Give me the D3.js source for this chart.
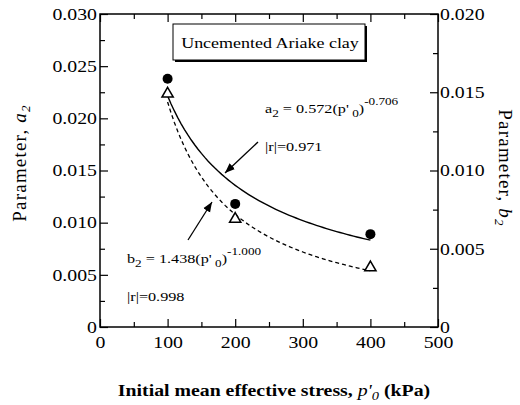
<!DOCTYPE html>
<html>
<head>
<meta charset="utf-8">
<script src="https://cdn.jsdelivr.net/npm/d3@7"></script>
<style>
  body { margin: 0; background: #fff; }
</style>
</head>
<body>
<script>
// data
const pressure = [100, 200, 400];
const a2Values = [0.0238, 0.0118, 0.0089];
const b2Values = [0.0149, 0.0069, 0.0038];

// power-law fits printed on the chart
const a2Fit = { coef: 0.572, exp: -0.706, r: 0.971 };
const b2Fit = { coef: 1.438, exp: -1.000, r: 0.998 };
const fitRange = [100, 400];

const xTicks = [0, 100, 200, 300, 400, 500];
const yLeftTicks = [0, 0.005, 0.010, 0.015, 0.020, 0.025, 0.030];
const yRightTicks = [0, 0.005, 0.010, 0.015, 0.020];

const width = 520, height = 405;
const margin = { top: 14, right: 82, bottom: 78, left: 100 };
const serif = '"Liberation Serif", "Times New Roman", serif';
const stretchK = 1.2; // the original figure is a bit wider than tall

const svg = d3.select("body").append("svg")
    .attr("width", width)
    .attr("height", height)
    .style("font-family", serif);

const x = d3.scaleLinear().domain([0, 500]).range([margin.left, width - margin.right]);
const yL = d3.scaleLinear().domain([0, 0.03]).range([height - margin.bottom, margin.top]);
const yR = d3.scaleLinear().domain([0, 0.02]).range([height - margin.bottom, margin.top]);

const fmt = v => v === 0 ? "0" : d3.format(".3f")(v);

// widen horizontal text around its anchor point
function stretch(sel) {
    sel.each(function () {
        const t = d3.select(this);
        const tx = +t.attr("x") || 0, ty = +t.attr("y") || 0;
        t.attr("x", 0).attr("y", 0)
            .attr("transform", `translate(${tx},${ty}) scale(${stretchK},1)`);
    });
}

function styleAxis(g) {
    g.attr("font-family", null).attr("font-size", null);
    g.select(".domain").remove();
    g.selectAll("line").attr("stroke", "#000").attr("stroke-width", 1.2);
    g.selectAll("text").attr("fill", "#000")
        .style("font-family", serif).style("font-size", "16.5px")
        .call(stretch);
}

// major + minor ticks
svg.append("g").attr("transform", `translate(0,${yL(0)})`)
    .call(d3.axisBottom(x).tickValues(xTicks).tickFormat(d3.format("d")).tickSize(-8).tickPadding(9))
    .call(styleAxis);
svg.append("g").attr("transform", `translate(0,${yL(0)})`)
    .call(d3.axisBottom(x).tickValues(d3.range(50, 500, 100)).tickFormat("").tickSize(-5))
    .call(styleAxis);
svg.append("g").attr("transform", `translate(0,${yL(0.03)})`)
    .call(d3.axisTop(x).tickValues(xTicks).tickFormat("").tickSize(-8))
    .call(styleAxis);
svg.append("g").attr("transform", `translate(0,${yL(0.03)})`)
    .call(d3.axisTop(x).tickValues(d3.range(50, 500, 100)).tickFormat("").tickSize(-5))
    .call(styleAxis);

svg.append("g").attr("transform", `translate(${x(0)},0)`)
    .call(d3.axisLeft(yL).tickValues(yLeftTicks).tickFormat(fmt).tickSize(-8).tickPadding(3))
    .call(styleAxis);
svg.append("g").attr("transform", `translate(${x(0)},0)`)
    .call(d3.axisLeft(yL).tickValues(d3.range(0.0025, 0.03, 0.005)).tickFormat("").tickSize(-5))
    .call(styleAxis);

svg.append("g").attr("transform", `translate(${x(500)},0)`)
    .call(d3.axisRight(yR).tickValues(yRightTicks).tickFormat(fmt).tickSize(-8).tickPadding(2))
    .call(styleAxis);
svg.append("g").attr("transform", `translate(${x(500)},0)`)
    .call(d3.axisRight(yR).tickValues(d3.range(0.0025, 0.02, 0.005)).tickFormat("").tickSize(-5))
    .call(styleAxis);

// frame
svg.append("rect")
    .attr("x", x(0)).attr("y", yL(0.03))
    .attr("width", x(500) - x(0)).attr("height", yL(0) - yL(0.03))
    .attr("fill", "none").attr("stroke", "#000").attr("stroke-width", 1.5);

// fitted curves
const pSamples = d3.range(fitRange[0], fitRange[1] + 1, 5);
const aLine = d3.line().x(p => x(p)).y(p => yL(a2Fit.coef * Math.pow(p, a2Fit.exp)));
const bLine = d3.line().x(p => x(p)).y(p => yR(b2Fit.coef * Math.pow(p, b2Fit.exp)));

svg.append("path").attr("d", aLine(pSamples))
    .attr("fill", "none").attr("stroke", "#000").attr("stroke-width", 1.4);
svg.append("path").attr("d", bLine(pSamples))
    .attr("fill", "none").attr("stroke", "#000").attr("stroke-width", 1.3)
    .attr("stroke-dasharray", "4,3");

// points
svg.append("g").selectAll("circle").data(pressure).join("circle")
    .attr("cx", p => x(p))
    .attr("cy", (p, i) => yL(a2Values[i]))
    .attr("r", 5)
    .attr("fill", "#000");

const tri = d3.symbol().type(d3.symbolTriangle).size(55);
svg.append("g").selectAll("path").data(pressure).join("path")
    .attr("d", tri)
    .attr("transform", (p, i) => `translate(${x(p)},${yR(b2Values[i])})`)
    .attr("fill", "#fff").attr("stroke", "#000").attr("stroke-width", 1.5);

// title box with shadow
const box = { x: 173, y: 24, w: 192, h: 36 };
svg.append("rect").attr("x", box.x + 2).attr("y", box.y + 2).attr("width", box.w).attr("height", box.h)
    .attr("fill", "#000");
svg.append("rect").attr("x", box.x).attr("y", box.y).attr("width", box.w).attr("height", box.h)
    .attr("fill", "#fff").attr("stroke", "#000").attr("stroke-width", 1);
svg.append("text").attr("x", box.x + box.w / 2 + 1).attr("y", box.y + 24)
    .attr("text-anchor", "middle").style("font-size", "15px")
    .text("Uncemented Ariake clay")
    .call(stretch);

// equation labels
function equation(xp, yp, name, fit) {
    const t = svg.append("text").attr("x", xp).attr("y", yp).style("font-size", "13.5px");
    t.append("tspan").text(name);
    t.append("tspan").attr("dy", 4).style("font-size", "11px").text("2");
    t.append("tspan").attr("dy", -4).text(` = ${fit.coef.toFixed(3)}(p'`);
    t.append("tspan").attr("dy", 4).style("font-size", "11px").text(" 0");
    t.append("tspan").attr("dy", -4).text(")");
    t.append("tspan").attr("dy", -8).style("font-size", "11px").text(fit.exp.toFixed(3));
    t.call(stretch);
    svg.append("text").attr("x", xp).attr("y", yp + 38).style("font-size", "13.5px")
        .text(`|r|=${fit.r.toFixed(3)}`)
        .call(stretch);
}
equation(265, 113, "a", a2Fit);
equation(127, 263, "b", b2Fit);

// arrows
svg.append("defs").append("marker")
    .attr("id", "head").attr("viewBox", "0 0 10 10")
    .attr("refX", 10).attr("refY", 5)
    .attr("markerWidth", 10).attr("markerHeight", 10)
    .attr("markerUnits", "userSpaceOnUse")
    .attr("orient", "auto")
    .append("path").attr("d", "M0,1 L10,5 L0,9 Z").attr("fill", "#000");

const arrows = [[258, 142, 225, 173], [188, 240, 212, 202]];
svg.append("g").selectAll("line").data(arrows).join("line")
    .attr("x1", d => d[0]).attr("y1", d => d[1])
    .attr("x2", d => d[2]).attr("y2", d => d[3])
    .attr("stroke", "#000").attr("stroke-width", 1.3)
    .attr("marker-end", "url(#head)");

// axis titles
const yt = svg.append("text")
    .attr("transform", `translate(26,163) rotate(-90)`)
    .attr("text-anchor", "middle")
    .style("font-size", "19px").style("letter-spacing", "1.2px");
yt.append("tspan").text("Parameter, ");
yt.append("tspan").style("font-style", "italic").text("a");
yt.append("tspan").attr("dy", 4).style("font-size", "13px").style("font-style", "italic").text("2");

const yt2 = svg.append("text")
    .attr("transform", `translate(499,168) rotate(90)`)
    .attr("text-anchor", "middle")
    .style("font-size", "19px").style("letter-spacing", "1.2px");
yt2.append("tspan").text("Parameter, ");
yt2.append("tspan").style("font-style", "italic").text("b");
yt2.append("tspan").attr("dy", 4).style("font-size", "13px").style("font-style", "italic").text("2");

const xt = svg.append("text")
    .attr("x", 274).attr("y", 396)
    .attr("text-anchor", "middle")
    .style("font-size", "16.5px").style("font-weight", "bold");
xt.append("tspan").text("Initial mean effective stress, ");
xt.append("tspan").style("font-style", "italic").style("font-weight", "normal").text("p'");
xt.append("tspan").attr("dy", 4).style("font-size", "12px").style("font-style", "italic").style("font-weight", "normal").text("0");
xt.append("tspan").attr("dy", -4).text(" (kPa)");
xt.call(stretch);
</script>
</body>
</html>
